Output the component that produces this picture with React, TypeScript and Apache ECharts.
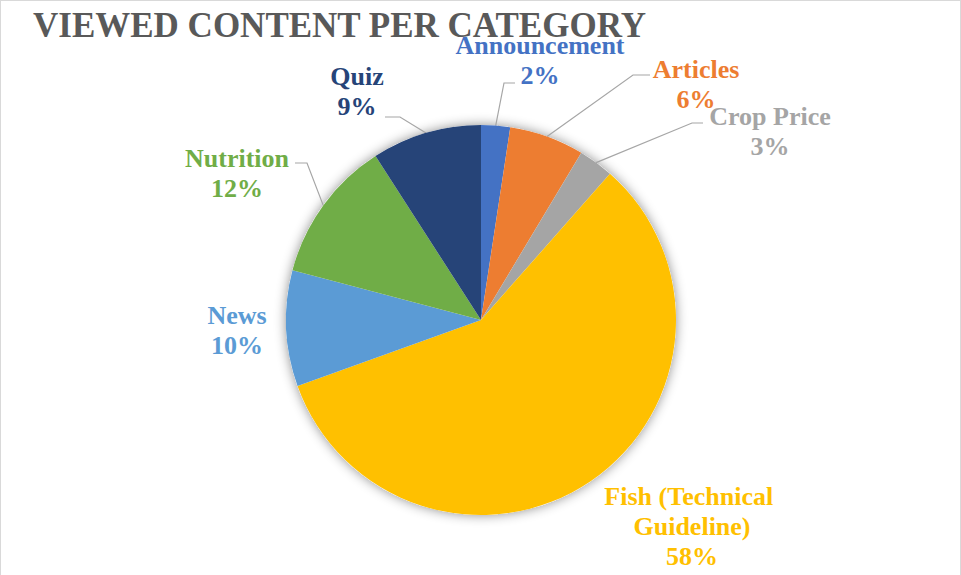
import React, { useEffect, useRef } from "react";
import * as echarts from "echarts";

const TITLE = "VIEWED CONTENT PER CATEGORY";
const categories = [
  "Announcement",
  "Articles",
  "Crop Price",
  "Fish (Technical Guideline)",
  "News",
  "Nutrition",
  "Quiz",
];
// shares (%)
const shares = [2.4, 6.2, 2.9, 58.0, 9.6, 11.8, 9.1];
const colors = ["#4472C4", "#ED7D31", "#A5A5A5", "#FFC000", "#5B9BD5", "#70AD47", "#264478"];

// layout (page pixels)
const OFF = 1; // chart sits inside a 1px border
const PIE_CENTER = [481, 320];
const PIE_R = 195;
const labelCentres = [
  [540, 60],
  [696, 84],
  [770, 131],
  [692, 526],
  [237, 330],
  [237, 173],
  [357, 91],
];
const leaderBends: (number[][] | null)[] = [
  [[504, 83], [515, 83]],
  [[633, 75], [650, 75]],
  [[692, 123], [703, 123]],
  null,
  null,
  [[307, 163], [295, 163]],
  [[400, 117], [385, 117]],
];

const SERIF = "'Liberation Serif', 'Times New Roman', serif";

export default function App() {
  const ref = useRef<HTMLDivElement>(null);
  useEffect(() => {
    const chart = echarts.init(ref.current!, null, { renderer: "svg" });
    const center = [PIE_CENTER[0] - OFF, PIE_CENTER[1] - OFF];
    const data = categories.map((name, i) => ({
      name,
      value: shares[i],
      itemStyle: { color: colors[i] },
      label: {
        color: colors[i],
        ...(i === 3 ? { width: 190, overflow: "break" } : {}),
      },
      labelLine: { show: leaderBends[i] !== null },
    }));
    chart.setOption({
      animation: false,
      title: {
        text: TITLE,
        left: 33 - OFF,
        top: 8 - OFF,
        padding: 0,
        textStyle: {
          fontFamily: SERIF,
          fontWeight: "bold",
          fontSize: 35,
          color: "#595959",
        },
      },
      series: [
        {
          type: "pie",
          silent: true,
          center,
          radius: PIE_R,
          z: 1,
          data: [{ value: 1, name: "" }],
          label: { show: false },
          labelLine: { show: false },
          itemStyle: {
            color: "#ffffff",
            shadowBlur: 12,
            shadowColor: "rgba(0,0,0,0.45)",
          },
        },
        {
          type: "pie",
          center,
          radius: PIE_R,
          z: 2,
          startAngle: 90,
          clockwise: true,
          percentPrecision: 0,
          avoidLabelOverlap: false,
          data,
          itemStyle: { borderWidth: 0 },
          label: {
            show: true,
            position: "outside",
            formatter: "{b}\n{d}%",
            fontFamily: SERIF,
            fontWeight: "bold",
            fontSize: 26,
            lineHeight: 30,
            align: "center",
          },
          labelLine: {
            lineStyle: { color: "#A6A6A6", width: 1.2 },
          },
          labelLayout: (p: any) => {
            const i = p.dataIndex;
            const c = labelCentres[i];
            const out: any = {
              x: c[0] - OFF,
              y: c[1] - OFF,
              align: "center",
              verticalAlign: "middle",
            };
            const bend = leaderBends[i];
            if (bend && p.labelLinePoints) {
              out.labelLinePoints = [
                p.labelLinePoints[0],
                [bend[0][0] - OFF, bend[0][1] - OFF],
                [bend[1][0] - OFF, bend[1][1] - OFF],
              ];
            }
            return out;
          },
        },
      ],
    });
    return () => chart.dispose();
  }, []);

  return (
    <div
      style={{
        position: "absolute",
        left: 0,
        top: 0,
        width: 961,
        height: 575,
        boxSizing: "border-box",
        borderLeft: "1px solid #D9D9D9",
        borderTop: "1px solid #D9D9D9",
        borderRight: "1px solid #D9D9D9",
        background: "#ffffff",
        overflow: "hidden",
      }}
    >
      <div ref={ref} style={{ width: 959, height: 574 }} />
    </div>
  );
}
